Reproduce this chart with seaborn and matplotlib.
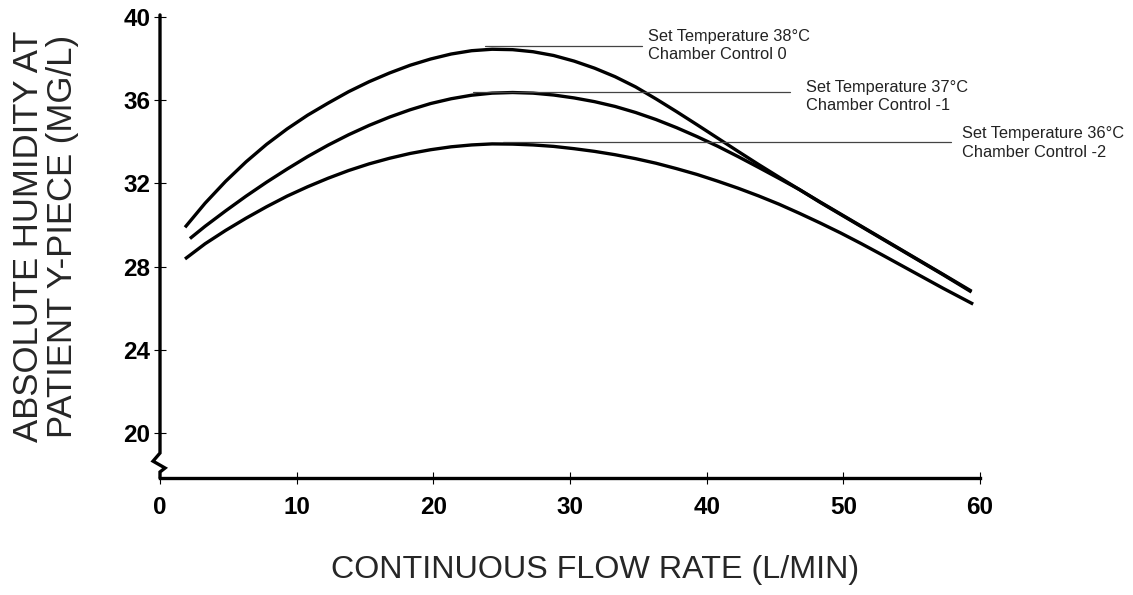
import pandas as pd
import seaborn as sns
import matplotlib.pyplot as plt

# curve readings (flow L/min, humidity mg/L)
flow_38 = [1.83, 3.3, 4.8, 6.3, 7.8, 9.3, 10.8, 12.3, 13.8, 15.3, 16.8, 18.3, 19.8, 21.3, 22.8,
           24.3, 25.8, 27.3, 28.8, 30.3, 31.8, 33.3, 34.8, 36.3, 37.8, 39.3, 40.8, 42.3, 43.8,
           45.3, 46.8, 48.3, 49.8, 51.3, 52.8, 54.3, 55.8, 57.3, 59.38]
hum_38 = [29.89, 31.05, 32.10, 33.04, 33.88, 34.62, 35.28, 35.86, 36.41, 36.89, 37.31, 37.68,
          37.98, 38.22, 38.38, 38.45, 38.43, 38.33, 38.15, 37.88, 37.54, 37.13, 36.64, 36.06,
          35.45, 34.82, 34.18, 33.54, 32.91, 32.30, 31.70, 31.11, 30.53, 29.95, 29.37, 28.79,
          28.21, 27.63, 26.82]

flow_37 = [2.19, 3.3, 4.8, 6.3, 7.8, 9.3, 10.8, 12.3, 13.8, 15.3, 16.8, 18.3, 19.8, 21.3, 22.8,
           24.3, 25.8, 27.3, 28.8, 30.3, 31.8, 33.3, 34.8, 36.3, 37.8, 39.3, 40.8, 42.3, 43.8,
           45.3, 46.8, 48.3, 49.8, 51.3, 52.8, 54.3, 55.8, 57.3, 59.38]
hum_37 = [29.35, 29.94, 30.68, 31.39, 32.06, 32.69, 33.29, 33.84, 34.34, 34.79, 35.19, 35.54,
          35.84, 36.07, 36.24, 36.34, 36.37, 36.34, 36.25, 36.11, 35.93, 35.70, 35.41, 35.07,
          34.68, 34.25, 33.79, 33.29, 32.77, 32.24, 31.70, 31.09, 30.51, 29.93, 29.35, 28.77,
          28.19, 27.61, 26.78]

flow_36 = [1.83, 3.3, 4.8, 6.3, 7.8, 9.3, 10.8, 12.3, 13.8, 15.3, 16.8, 18.3, 19.8, 21.3, 22.8,
           24.3, 25.8, 27.3, 28.8, 30.3, 31.8, 33.3, 34.8, 36.3, 37.8, 39.3, 40.8, 42.3, 43.8,
           45.3, 46.8, 48.3, 49.8, 51.3, 52.8, 54.3, 55.8, 57.3, 59.5]
hum_36 = [28.37, 29.10, 29.74, 30.33, 30.88, 31.39, 31.84, 32.25, 32.62, 32.94, 33.21, 33.44,
          33.62, 33.76, 33.85, 33.90, 33.89, 33.85, 33.78, 33.67, 33.54, 33.38, 33.19, 32.97,
          32.71, 32.43, 32.11, 31.77, 31.40, 31.00, 30.56, 30.10, 29.62, 29.11, 28.58, 28.04,
          27.50, 26.96, 26.20]

labels = ['Set Temperature 38°C\nChamber Control 0',
          'Set Temperature 37°C\nChamber Control -1',
          'Set Temperature 36°C\nChamber Control -2']
# leader line start/end x, y and text anchor
leader_x0 = [23.8, 22.9, 25.1]
leader_x1 = [35.3, 46.1, 57.9]
leader_y = [38.6, 36.39, 33.99]
text_x = [35.7, 47.25, 58.7]
text_y = [38.63, 36.18, 33.94]

x_ticks = [0, 10, 20, 30, 40, 50, 60]
y_ticks = [20, 24, 28, 32, 36, 40]

df = pd.concat([
    pd.DataFrame({'flow': flow_38, 'humidity': hum_38, 'series': '38'}),
    pd.DataFrame({'flow': flow_37, 'humidity': hum_37, 'series': '37'}),
    pd.DataFrame({'flow': flow_36, 'humidity': hum_36, 'series': '36'}),
])

sns.set_style('white')
plt.rcParams['font.family'] = ['Liberation Sans', 'DejaVu Sans']

fig = plt.figure(figsize=(11.33, 5.95), dpi=100)
ax = fig.add_axes([160 / 1133, 1 - 478 / 595, 820 / 1133, 461 / 595])

sns.lineplot(data=df, x='flow', y='humidity', units='series', estimator=None,
             sort=False, color='black', lw=2.4, ax=ax, legend=False,
             solid_joinstyle='round', solid_capstyle='butt')

for i in range(3):
    ax.plot([leader_x0[i], leader_x1[i]], [leader_y[i], leader_y[i]],
            color='#444444', lw=0.9, clip_on=False)
    ax.text(text_x[i], text_y[i], labels[i], fontsize=11.8, color='#222222',
            ha='left', va='center', linespacing=1.3, clip_on=False)

ax.set_xlim(0, 60)
ax.set_ylim(17.84, 40)
ax.set_xticks(x_ticks)
ax.set_yticks(y_ticks)
ax.tick_params(direction='inout', length=8, width=0.8, colors='black',
               labelsize=17.5, left=True, bottom=True)
ax.tick_params(axis='x', pad=9)
ax.tick_params(axis='y', pad=3)
for lab in ax.get_xticklabels() + ax.get_yticklabels():
    lab.set_fontweight('bold')

for s in ['top', 'right', 'left']:
    ax.spines[s].set_visible(False)
ax.spines['bottom'].set_linewidth(2.4)
ax.spines['bottom'].set_color('black')

# left axis with break mark
ax.plot([0, 0, -0.51, 0.37, 0, 0], [40.1, 19.04, 18.65, 18.32, 18.13, 17.84],
        color='black', lw=2.4, clip_on=False, solid_joinstyle='miter')

ax.set_xlabel('')
ax.set_ylabel('')
fig.text(595 / 1133, 1 - 570 / 595, 'CONTINUOUS FLOW RATE (L/MIN)', fontsize=23.2,
         ha='center', va='center')
fig.text(45.5 / 1133, 1 - 236 / 595, 'ABSOLUTE HUMIDITY AT\nPATIENT Y-PIECE (MG/L)',
         fontsize=25, ha='center', va='center', rotation=90, linespacing=1.02)

fig.savefig('out.png', dpi=100)
